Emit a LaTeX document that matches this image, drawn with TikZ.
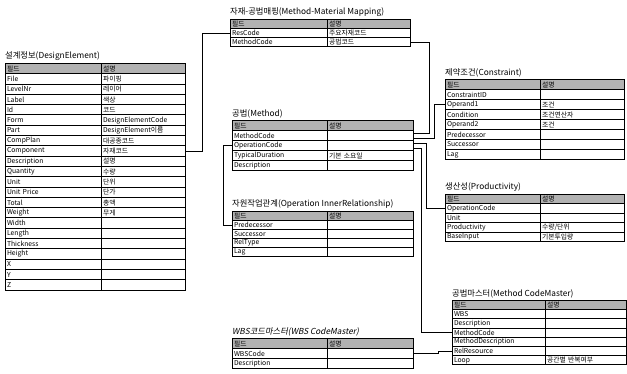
\documentclass[tikz,border=0pt]{standalone}
\usepackage{fontspec}
\setmainfont{Noto Sans CJK KR}
\newfontfamily\krit{Noto Sans CJK KR}[FakeSlant=0.2]
\tikzset{
  cell/.style={draw, line width=1pt, inner xsep=1.5pt, inner ysep=0pt, anchor=north west, align=left, font=\fontsize{6.8}{7}\selectfont},
  hdr/.style={cell, fill=black!30},
  ttl/.style={anchor=south west, inner sep=0pt, font=\fontsize{8.3}{9}\selectfont},
  link/.style={line width=0.8pt},
}
% #1 name, #2 x left, #3 y top, #4 divider x, #5 right x, #6 row height, #7 rows
\newcommand\dbtab[7]{%
  \pgfmathsetmacro\wfa{#4-#2-3}%
  \pgfmathsetmacro\wfb{#5-#4-3}%
  \foreach \fa/\fb [count=\i from 0] in {#7} {%
    \pgfmathsetmacro\ya{#3+\i*#6}%
    \ifnum\i=0 \def\cellsty{hdr}\else\def\cellsty{cell}\fi
    \node[\cellsty, text width=\wfa pt, minimum height=#6pt] (#1-f\i) at (#2,\ya) {\fa};
    \node[\cellsty, text width=\wfb pt, minimum height=#6pt] (#1-d\i) at (#4,\ya) {\fb};
  }%
}
\begin{document}
\begin{tikzpicture}[x=1pt,y=-1pt]
\useasboundingbox (0,0) rectangle (627,374);

% DesignElement
\node[ttl] (de-t) at (5,61) {설계정보(DesignElement)};
\dbtab{de}{5}{63}{101}{185}{10.3}{{필드}/{설명},{File}/{파이핑},{LevelNr}/{레이어},{Label}/{색상},{Id}/{코드},{Form}/{DesignElementCode},{Part}/{DesignElement이름},{CompPlan}/{대공종코드},{Component}/{자재코드},{Description}/{설명},{Quantity}/{수량},{Unit}/{단위},{Unit Price}/{단가},{Total}/{총액},{Weight}/{무게},{Width}/{},{Length}/{},{Thickness}/{},{Height}/{},{X}/{},{Y}/{},{Z}/{}}

% Method-Material Mapping
\node[ttl] (mm-t) at (230,17) {자재-공법매핑(Method-Material Mapping)};
\dbtab{mm}{230}{19}{327}{410}{9}{{필드}/{설명},{ResCode}/{주요자재코드},{MethodCode}/{공법코드}}

% Method
\node[ttl] (m-t) at (232,118) {공법(Method)};
\dbtab{m}{232}{120}{327}{413}{10}{{필드}/{설명},{MethodCode}/{},{OperationCode}/{},{TypicalDuration}/{기본 소요일},{Description}/{}}

% Operation InnerRelationship
\node[ttl] (r-t) at (232,209) {자원작업관계(Operation InnerRelationship)};
\dbtab{r}{232}{211}{327}{413}{9}{{필드}/{설명},{Predecessor}/{},{Successor}/{},{RelType}/{},{Lag}/{}}

% WBS CodeMaster
\node[ttl] (w-t) at (232,336) {\krit WBS코드마스터(WBS CodeMaster)};
\dbtab{w}{232}{338}{327}{413}{10}{{필드}/{설명},{WBSCode}/{},{Description}/{}}

% Constraint
\node[ttl] (c-t) at (445,77) {제약조건(Constraint)};
\dbtab{c}{445}{79}{540}{624}{10}{{필드}/{설명},{ConstraintID}/{},{Operand1}/{조건},{Condition}/{조건연산자},{Operand2}/{조건},{Predecessor}/{},{Successor}/{},{Lag}/{}}

% Productivity
\node[ttl] (p-t) at (445,192) {생산성(Productivity)};
\dbtab{p}{445}{194}{540}{624}{9.5}{{필드}/{설명},{OperationCode}/{},{Unit}/{},{Productivity}/{{수량/단위}},{BaseInput}/{기본투입량}}

% Method CodeMaster
\node[ttl] (mc-t) at (452,298) {공법마스터(Method CodeMaster)};
\dbtab{mc}{452}{300}{545}{626}{9.2}{{필드}/{설명},{WBS}/{},{Description}/{},{MethodCode}/{},{MethodDescription}/{},{RelResource}/{},{Loop}/{공간별 반복여부}}

% connectors
\draw[link] (mm-f1.west) -- ++(-28,0) |- (de-d8.east);
\draw[link] (mm-d2.east) -- ++(18,0) |- ([yshift=2pt]m-d1.east);
\draw[link] (c-f2.west) -- ++(-11,0) |- ([yshift=-3pt]m-d1.east);
\draw[link] ([yshift=2pt]m-d2.east) -- ++(12,0) |- (p-f1.west);
\draw[link] ([yshift=-3pt]m-d2.east) -- ++(7,0) |- (mc-f3.west);
\draw[link] (m-f2.west) -- ++(-9,0) |- (r-f1.west);
\draw[link] (w-d1.east) -- ++(24,0) |- (mc-f5.west);
\end{tikzpicture}
\end{document}
